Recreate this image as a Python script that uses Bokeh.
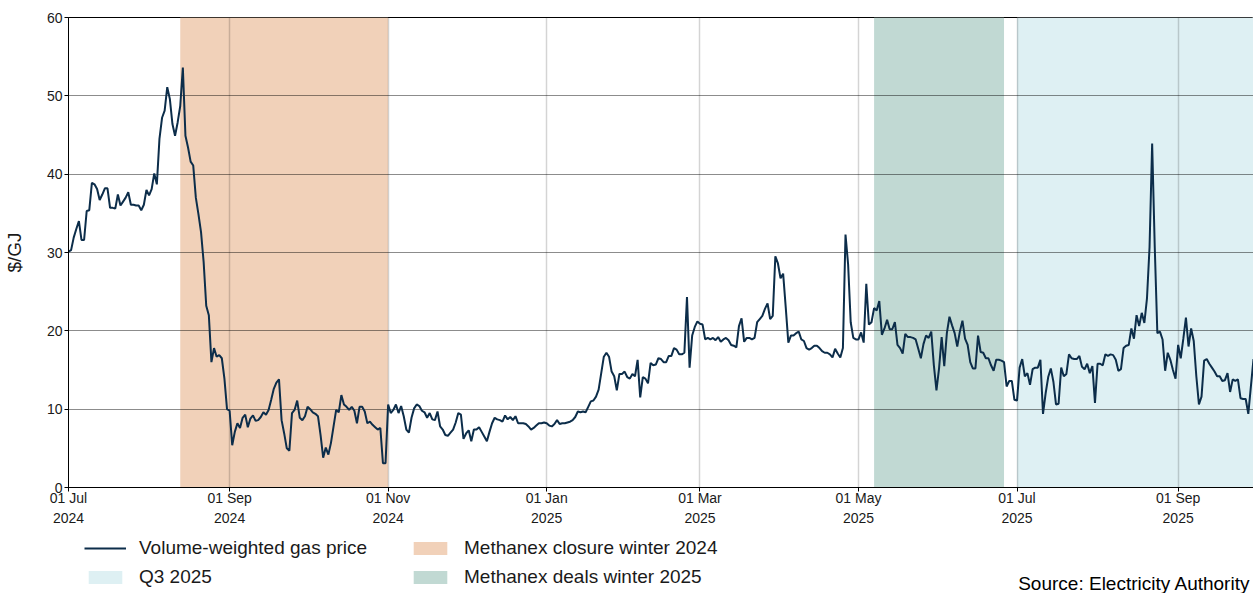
import pandas as pd
from bokeh.plotting import figure
from bokeh.layouts import column
from bokeh.models import (ColumnDataSource, FixedTicker, CustomJSTickFormatter, Legend,
                          LegendItem, Label, Range1d)
from bokeh.embed import file_html
from bokeh.resources import INLINE

# ---------------- data (daily volume-weighted gas price, $/GJ) ----------------
start_date = "2024-07-01"
jul24 = [30.1, 30.3, 31.9, 33.0, 34.0, 31.6, 31.6, 35.3, 35.4, 38.9, 38.7, 38.1, 36.7, 37.4, 38.2, 38.2,
         35.7, 35.7, 35.6, 37.4, 36.0, 36.5, 37.0, 37.7, 36.1, 36.1, 36.0, 36.0, 35.4, 36.1, 38.0]
aug24 = [37.3, 38.1, 40.1, 38.7, 44.5, 47.2, 48.1, 51.1, 49.6, 46.4, 44.9, 46.6, 48.7, 53.6, 44.9, 43.4,
         41.6, 41.1, 37.0, 34.9, 32.6, 28.8, 23.2, 22.0, 16.0, 17.8, 16.7, 16.9, 16.5, 13.9, 10.0]
sep24 = [9.8, 5.4, 7.1, 8.2, 7.6, 8.9, 9.3, 7.7, 8.8, 9.2, 8.5, 8.6, 9.0, 9.6, 9.3, 9.9,
         11.2, 12.6, 13.4, 13.8, 8.6, 6.9, 5.0, 4.7, 9.5, 9.9, 11.1, 8.9, 8.6, 9.1]
oct24 = [10.3, 10.0, 9.6, 9.4, 9.1, 6.7, 3.8, 5.1, 4.2, 5.7, 7.8, 9.9, 9.6, 11.8, 10.6, 10.3,
         9.9, 10.3, 9.8, 8.2, 10.3, 10.3, 9.7, 8.2, 8.4, 8.0, 7.7, 7.4, 7.6, 3.1, 3.1]
nov24 = [10.6, 9.5, 9.9, 10.6, 9.5, 10.4, 9.1, 7.4, 7.0, 8.9, 10.1, 10.6, 10.4, 9.8, 9.6, 8.9,
         9.5, 8.7, 8.6, 9.7, 7.8, 7.4, 6.7, 6.6, 7.0, 7.4, 8.3, 9.5, 9.3, 6.2]
dec24 = [6.9, 7.3, 5.9, 7.4, 7.4, 7.7, 7.1, 6.5, 5.9, 7.1, 8.2, 8.9, 8.7, 8.6, 8.4, 9.2,
         8.7, 9.0, 8.6, 9.1, 8.2, 8.2, 8.2, 8.1, 7.8, 7.4, 7.6, 7.9, 8.2, 8.2, 8.3]
jan25 = [8.2, 7.9, 7.8, 8.1, 8.6, 8.1, 8.2, 8.2, 8.3, 8.4, 8.6, 9.0, 9.7, 9.6, 9.7, 9.6,
         10.3, 11.0, 11.1, 11.6, 12.5, 14.6, 16.7, 17.2, 16.7, 14.8, 14.2, 12.4, 14.5, 14.5, 14.8]
feb25 = [14.1, 13.9, 14.5, 14.2, 16.3, 11.5, 14.1, 13.9, 13.3, 15.9, 15.6, 15.7, 16.5, 16.4,
         16.0, 16.0, 16.8, 16.8, 17.8, 17.6, 17.0, 17.0, 17.2, 24.3, 15.3, 19.4, 20.5, 21.2]
mar25 = [20.9, 20.8, 18.9, 19.1, 18.9, 19.1, 18.8, 19.2, 18.6, 18.9, 19.1, 18.8, 18.2, 18.1, 17.9, 20.6,
         21.6, 18.6, 19.1, 19.1, 18.9, 19.1, 21.1, 21.5, 21.9, 22.8, 23.5, 21.5, 21.9, 29.5, 28.6]
apr25 = [26.7, 27.3, 23.0, 18.5, 19.4, 19.4, 19.7, 19.9, 18.9, 18.7, 17.8, 17.6, 17.8, 18.1, 18.1,
         17.8, 17.4, 17.2, 17.2, 17.0, 16.6, 17.7, 17.1, 16.6, 17.8, 32.3, 28.5, 21.1, 19.1, 18.9]
may25 = [18.9, 19.8, 18.5, 26.0, 20.8, 21.1, 22.9, 22.6, 23.8, 19.5, 20.3, 21.4, 20.2, 20.2, 21.1, 18.2,
         17.8, 17.1, 19.6, 19.2, 19.2, 19.1, 18.9, 17.7, 16.5, 18.3, 19.4, 19.1, 19.9, 15.6, 12.4]
jun25 = [15.2, 19.2, 15.5, 19.7, 21.8, 20.7, 19.7, 18.0, 19.9, 21.3, 19.0, 18.2, 16.0, 15.2, 15.2,
         19.4, 17.3, 17.2, 16.5, 16.5, 15.6, 14.9, 16.3, 16.3, 16.2, 16.0, 12.9, 13.6, 13.6, 11.2]
jul25 = [11.1, 15.3, 16.4, 14.2, 14.6, 13.1, 15.1, 15.3, 15.3, 16.3, 9.4, 12.0, 14.1, 15.2, 13.5, 10.6,
         10.7, 15.3, 14.2, 14.5, 17.0, 16.5, 16.4, 16.4, 16.8, 15.4, 15.1, 15.8, 14.6, 15.5, 10.8]
aug25 = [15.8, 15.8, 15.6, 17.0, 16.8, 17.0, 16.9, 16.3, 14.9, 15.1, 17.8, 18.1, 18.2, 20.3, 19.0, 22.0,
         20.6, 22.3, 21.0, 24.1, 30.7, 43.9, 30.7, 19.7, 19.9, 18.9, 14.9, 17.2, 16.3, 15.0, 13.9]
sep25 = [18.2, 16.5, 19.0, 21.7, 18.0, 20.3, 18.7, 14.2, 10.6, 11.6, 16.2, 16.4, 15.8, 15.3, 14.8,
         14.2, 14.2, 13.6, 13.7, 14.6, 12.2, 13.8, 13.6, 13.8, 11.4, 11.3, 11.3, 9.4, 12.9, 16.4]

# shaded periods
period_labels = ["Methanex closure winter 2024", "Methanex deals winter 2025", "Q3 2025"]
period_starts = ["2024-08-13", "2025-05-07", "2025-07-01"]
period_ends = ["2024-11-01", "2025-06-26", "2025-10-01"]

# axis ticks
tick_dates = ["2024-07-01", "2024-09-01", "2024-11-01", "2025-01-01",
              "2025-03-01", "2025-05-01", "2025-07-01", "2025-09-01"]
y_ticks = [0, 10, 20, 30, 40, 50, 60]
range_end = "2025-09-30"

# ---------------- build ----------------
prices = (jul24 + aug24 + sep24 + oct24 + nov24 + dec24 + jan25 + feb25 + mar25 + apr25
          + may25 + jun25 + jul25 + aug25 + sep25)
dates = pd.date_range(start_date, periods=len(prices), freq="D")
src = ColumnDataSource(dict(date=dates, price=prices))

FONT = "Liberation Sans"
TXT = "#1a1a1a"
LINE_COLOR = "#0c2d4a"
colors = ["#f1d1b9", "#c1d9d3", "#def0f3"]
LEFT = 68
FRAME_OFF = LEFT + 2

p = figure(width=1253, height=535, x_axis_type="datetime", output_backend="svg",
           toolbar_location=None,
           x_range=Range1d(pd.Timestamp(start_date), pd.Timestamp(range_end)),
           y_range=Range1d(0, 60),
           min_border_left=LEFT, min_border_right=0, min_border_top=17, min_border_bottom=48)
p.background_fill_color = "white"
p.border_fill_color = "white"
p.outline_line_color = "black"
p.outline_line_width = 1

for lab, s, e, c in zip(period_labels, period_starts, period_ends, colors):
    qs = ColumnDataSource(dict(left=[pd.Timestamp(s)], right=[pd.Timestamp(e)], bottom=[0], top=[60]))
    p.quad(left="left", right="right", bottom="bottom", top="top", source=qs,
           fill_color=c, line_color=None, level="image")

p.line(x="date", y="price", source=src, line_color=LINE_COLOR, line_width=2)

# grids
p.ygrid.grid_line_color = "black"
p.ygrid.grid_line_alpha = 0.45
p.ygrid.grid_line_width = 1
p.xgrid.grid_line_color = "black"
p.xgrid.grid_line_alpha = 0.17
p.xgrid.grid_line_width = 1.5

# axes
tick_ms = [int(pd.Timestamp(t).value // 10**6) for t in tick_dates]
p.xaxis.ticker = FixedTicker(ticks=tick_ms)
p.xaxis.formatter = CustomJSTickFormatter(code="""
const d = new Date(tick);
const m = ["Jan","Feb","Mar","Apr","May","Jun","Jul","Aug","Sep","Oct","Nov","Dec"][d.getUTCMonth()];
const dd = String(d.getUTCDate()).padStart(2, "0");
return dd + " " + m + "\\n" + d.getUTCFullYear();
""")
p.yaxis.ticker = FixedTicker(ticks=y_ticks)
p.yaxis.axis_label = "$/GJ"

for ax in (p.xaxis[0], p.yaxis[0]):
    ax.axis_line_color = "black"
    ax.major_tick_line_color = "black"
    ax.major_tick_in = 0
    ax.major_tick_out = 4
    ax.minor_tick_line_color = None
    ax.major_label_text_font = FONT
    ax.major_label_text_font_size = "14px"
    ax.major_label_text_color = TXT
    ax.major_label_standoff = 2
    ax.axis_label_text_font = FONT
    ax.axis_label_text_font_size = "19px"
    ax.axis_label_text_font_style = "normal"
    ax.axis_label_text_color = TXT
p.xaxis.major_label_standoff = -2
p.xaxis.major_label_text_line_height = 1.3
p.yaxis.axis_label_standoff = 19

# ---------------- legend + source strip ----------------
p2 = figure(width=1253, height=58, output_backend="svg", toolbar_location=None,
            x_range=Range1d(0, 1), y_range=Range1d(0, 1),
            x_axis_location=None, y_axis_location=None,
            min_border_left=LEFT, min_border_right=0, min_border_top=0, min_border_bottom=0)
p2.outline_line_color = None
p2.grid.visible = False
p2.background_fill_color = "white"
p2.border_fill_color = "white"

# off-range stand-ins so the legend has glyphs to draw
lr = p2.line(x=[-10, -9], y=[-10, -10], line_color=LINE_COLOR, line_width=2)
qr = [p2.quad(left=[-10], right=[-9], bottom=[-10], top=[-9], fill_color=c, line_color=None)
      for c in colors]

items = [LegendItem(label="Volume-weighted gas price", renderers=[lr]),
         LegendItem(label=period_labels[2], renderers=[qr[2]]),
         LegendItem(label=period_labels[0], renderers=[qr[0]]),
         LegendItem(label=period_labels[1], renderers=[qr[1]])]
legend = Legend(items=items, orientation="vertical", ncols=2, location=(86 - FRAME_OFF, 5),
                glyph_width=42, glyph_height=16, label_standoff=13, label_width=263,
                label_height=22, spacing=7, padding=0, margin=0,
                label_text_font=FONT, label_text_font_size="19px", label_text_color=TXT,
                border_line_color=None, background_fill_alpha=0)
p2.add_layout(legend, "center")

src_label = Label(x=1252 - FRAME_OFF, y=10, x_units="screen", y_units="screen",
                  text="Source: Electricity Authority", text_align="right",
                  text_baseline="middle", text_font=FONT, text_font_size="19px",
                  text_color="black")
p2.add_layout(src_label)

layout = column(p, p2, spacing=0)
open("out.html", "w").write(file_html(layout, INLINE))
